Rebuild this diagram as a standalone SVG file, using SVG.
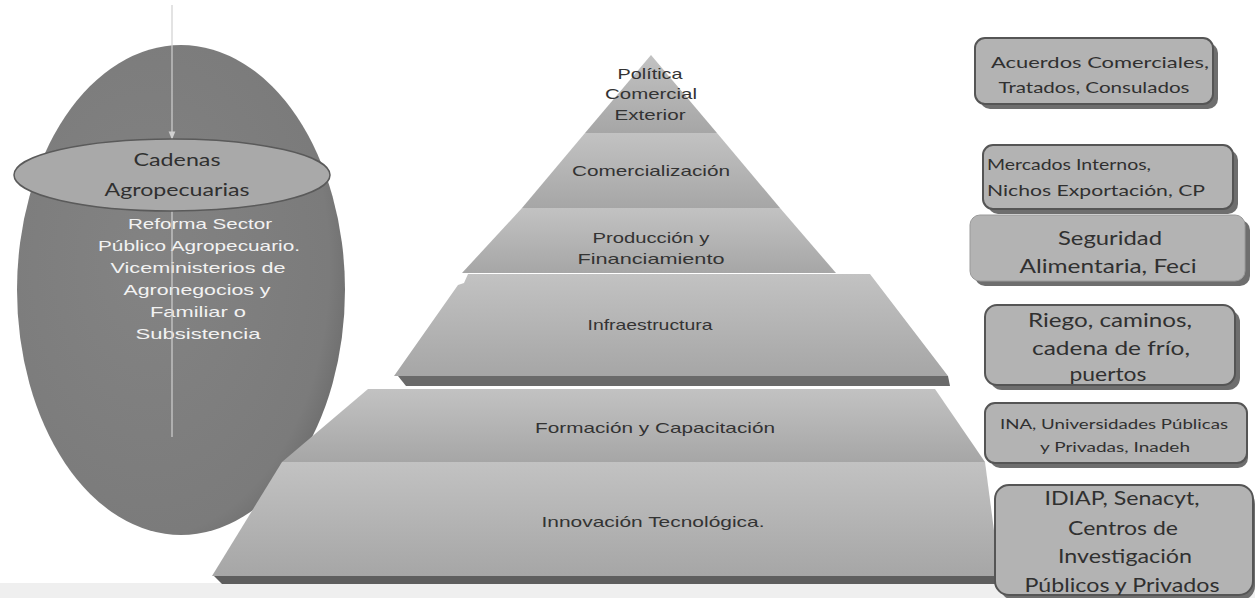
<svg xmlns="http://www.w3.org/2000/svg" width="1255" height="598" viewBox="0 0 1255 598">
<defs>
<linearGradient id="pyr" x1="0" y1="0" x2="0" y2="1">
<stop offset="0" stop-color="#c2c2c2"/>
<stop offset="0.5" stop-color="#b4b4b4"/>
<stop offset="1" stop-color="#a6a6a6"/>
</linearGradient>
<radialGradient id="egg" cx="0.4" cy="0.45" r="0.65">
<stop offset="0" stop-color="#838383"/>
<stop offset="0.85" stop-color="#7b7b7b"/>
<stop offset="1" stop-color="#6a6a6a"/>
</radialGradient>
<marker id="arr" viewBox="0 0 10 10" refX="9" refY="5" markerWidth="7" markerHeight="7" orient="auto">
<path d="M0,1 L10,5 L0,9 z" fill="#d0d0d0"/>
</marker>
</defs>
<style>
.pt{font-family:"Liberation Sans",Arial,sans-serif;font-size:15px;fill:#333;text-anchor:middle}
.bx{fill:#b3b3b3;stroke:#555;stroke-width:2}
.sh{fill:#6e6e6e}
.bt{font-family:Lato,"Open Sans",sans-serif;fill:#303030;text-anchor:middle}
.bl{font-family:Lato,"Open Sans",sans-serif;fill:#303030}
.wt{font-family:"Liberation Sans",Arial,sans-serif;font-size:15px;fill:#f2f2f2;text-anchor:middle}
</style>
<rect x="0" y="0" width="1255" height="598" fill="#ffffff"/>
<rect x="0" y="583" width="1255" height="15" fill="#efefef"/>

<g id="egg-node">
<ellipse cx="181" cy="290" rx="164" ry="245" fill="url(#egg)"/>
<text class="wt" x="200" y="229" textLength="144" lengthAdjust="spacingAndGlyphs">Reforma Sector</text>
<text class="wt" x="199" y="251" textLength="202" lengthAdjust="spacingAndGlyphs">Público Agropecuario.</text>
<text class="wt" x="198" y="273" textLength="175" lengthAdjust="spacingAndGlyphs">Viceministerios de</text>
<text class="wt" x="197" y="295" textLength="147" lengthAdjust="spacingAndGlyphs">Agronegocios  y</text>
<text class="wt" x="198" y="317" textLength="96" lengthAdjust="spacingAndGlyphs">Familiar o</text>
<text class="wt" x="198" y="339" textLength="125" lengthAdjust="spacingAndGlyphs">Subsistencia</text>
</g>

<g id="connectors">
<line x1="172" y1="5" x2="172" y2="139" stroke="#d0d0d0" stroke-width="1.2" marker-end="url(#arr)"/>
<line x1="172" y1="210" x2="172" y2="437" stroke="#d0d0d0" stroke-width="1.2"/>
</g>

<g id="cadenas">
<ellipse cx="172" cy="175" rx="158" ry="36" fill="#a9a9a9" stroke="#5a5a5a" stroke-width="1.5"/>
<text class="bt" x="177" y="166" font-size="18" textLength="87" lengthAdjust="spacingAndGlyphs">Cadenas</text>
<text class="bt" x="177" y="196" font-size="18" textLength="145" lengthAdjust="spacingAndGlyphs">Agropecuarias</text>
</g>

<g id="pyramid">
<g id="tier-politica">
<path d="M651,55 L717,133 L585,133 Z" fill="url(#pyr)"/>
<text class="pt" x="650" y="79" textLength="65" lengthAdjust="spacingAndGlyphs">Política</text>
<text class="pt" x="651" y="99" textLength="92" lengthAdjust="spacingAndGlyphs">Comercial</text>
<text class="pt" x="650" y="120" textLength="71" lengthAdjust="spacingAndGlyphs">Exterior</text>
</g>
<g id="tier-comercializacion">
<path d="M585,133 L717,133 L780,208 L522,208 Z" fill="url(#pyr)"/>
<text class="pt" x="651" y="176" textLength="158" lengthAdjust="spacingAndGlyphs">Comercialización</text>
</g>
<g id="tier-produccion">
<path d="M522,208 L780,208 L836,273 L462,273 Z" fill="url(#pyr)"/>
<text class="pt" x="651" y="243" textLength="117" lengthAdjust="spacingAndGlyphs">Producción y</text>
<text class="pt" x="651" y="264" textLength="147" lengthAdjust="spacingAndGlyphs">Financiamiento</text>
</g>
<g id="tier-infraestructura">
<path d="M398,376 L948,376 L950,386 L406,386 Z" fill="#6a6a6a"/>
<path d="M468,274 L870,274 L948,376 L394,376 L458,285 L464,283 Z" fill="url(#pyr)"/>
<text class="pt" x="650" y="330" textLength="125" lengthAdjust="spacingAndGlyphs">Infraestructura</text>
</g>
<g id="tier-formacion">
<path d="M368,389 L935,389 L985,462 L282,462 Z" fill="url(#pyr)"/>
<text class="pt" x="655" y="433" textLength="240" lengthAdjust="spacingAndGlyphs">Formación y Capacitación</text>
</g>
<g id="tier-innovacion">
<path d="M214,576 L1000,576 L1000,584 L222,584 Z" fill="#5e5e5e"/>
<path d="M282,462 L985,462 L1000,576 L212,576 Z" fill="url(#pyr)"/>
<text class="pt" x="653" y="527" textLength="223" lengthAdjust="spacingAndGlyphs">Innovación Tecnológica.</text>
</g>
</g>

<g id="box-acuerdos">
<rect class="sh" x="980" y="43" width="238" height="66" rx="10"/>
<rect class="bx" x="975" y="38" width="238" height="66" rx="10"/>
<text class="bt" font-size="16" x="1100" y="68" textLength="218" lengthAdjust="spacingAndGlyphs">Acuerdos Comerciales,</text>
<text class="bt" font-size="16" x="1094" y="93" textLength="191" lengthAdjust="spacingAndGlyphs">Tratados, Consulados</text>
</g>
<g id="box-mercados">
<rect class="sh" x="988" y="150" width="250" height="64" rx="10"/>
<rect class="bx" x="983" y="145" width="250" height="64" rx="10"/>
<text class="bl" font-size="16" x="987" y="170" textLength="164" lengthAdjust="spacingAndGlyphs">Mercados Internos,</text>
<text class="bl" font-size="16" x="987" y="196" textLength="218" lengthAdjust="spacingAndGlyphs">Nichos Exportación, CP</text>
</g>
<g id="box-seguridad">
<rect class="sh" x="975" y="220" width="275" height="66" rx="10"/>
<rect x="970" y="215" width="275" height="66" rx="10" fill="#b3b3b3" stroke="#9a9a9a" stroke-width="1"/>
<text class="bt" font-size="20" x="1110" y="245" textLength="104" lengthAdjust="spacingAndGlyphs">Seguridad</text>
<text class="bt" font-size="20" x="1108" y="273" textLength="177" lengthAdjust="spacingAndGlyphs">Alimentaria, Feci</text>
</g>
<g id="box-riego">
<rect class="sh" x="990" y="310" width="250" height="80" rx="12"/>
<rect class="bx" x="985" y="305" width="250" height="80" rx="12"/>
<text class="bt" font-size="20" x="1110" y="327" textLength="164" lengthAdjust="spacingAndGlyphs">Riego, caminos,</text>
<text class="bt" font-size="20" x="1111" y="355" textLength="158" lengthAdjust="spacingAndGlyphs">cadena de frío,</text>
<text class="bt" font-size="20" x="1108" y="381" textLength="77" lengthAdjust="spacingAndGlyphs">puertos</text>
</g>
<g id="box-ina">
<rect class="sh" x="990" y="408" width="258" height="60" rx="10"/>
<rect class="bx" x="985" y="403" width="262" height="60" rx="10"/>
<text class="bt" font-size="14" x="1114" y="429" textLength="228" lengthAdjust="spacingAndGlyphs">INA, Universidades Públicas</text>
<text class="bt" font-size="14" x="1115" y="452" textLength="150" lengthAdjust="spacingAndGlyphs">y Privadas, Inadeh</text>
</g>
<g id="box-idiap">
<rect class="sh" x="1000" y="490" width="255" height="110" rx="14"/>
<rect class="bx" x="995" y="485" width="258" height="110" rx="14"/>
<text class="bt" font-size="20" x="1122" y="505" textLength="155" lengthAdjust="spacingAndGlyphs">IDIAP,  Senacyt,</text>
<text class="bt" font-size="20" x="1123" y="535" textLength="110" lengthAdjust="spacingAndGlyphs">Centros de</text>
<text class="bt" font-size="20" x="1125" y="563" textLength="134" lengthAdjust="spacingAndGlyphs">Investigación</text>
<text class="bt" font-size="20" x="1122" y="592" textLength="195" lengthAdjust="spacingAndGlyphs">Públicos y Privados</text>
</g>
</svg>
